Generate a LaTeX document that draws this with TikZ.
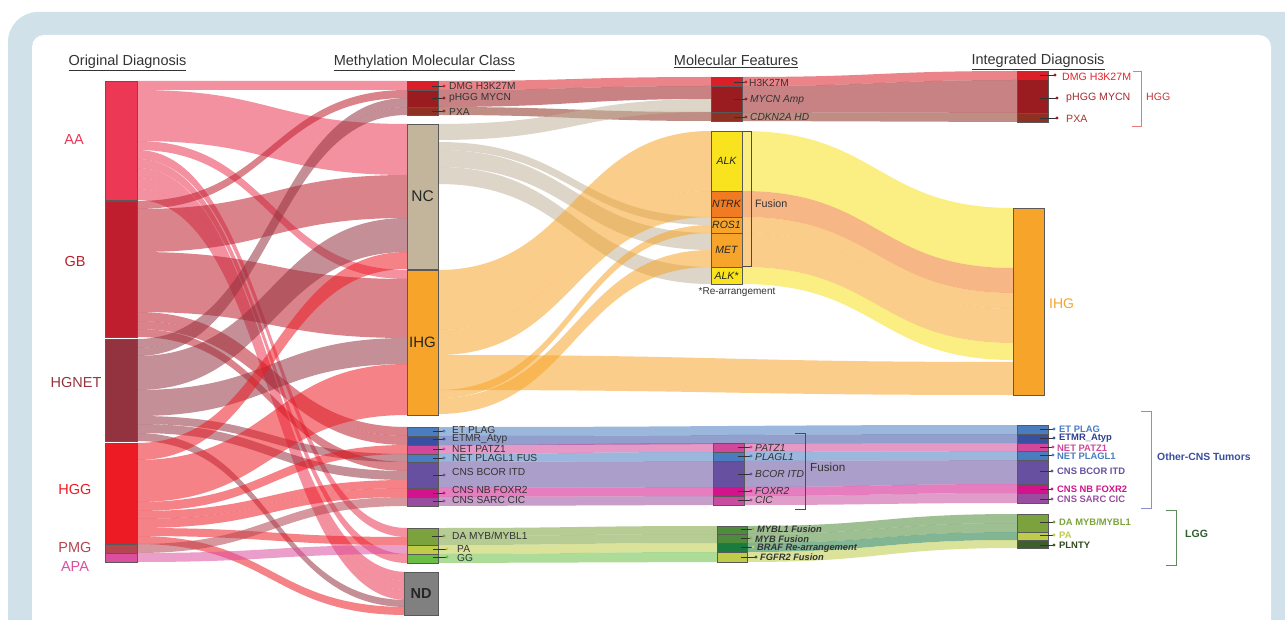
\documentclass[tikz,border=0pt]{standalone}
\usepackage{fontspec}
\setmainfont{Liberation Sans}
\usetikzlibrary{fit}
% node colours
\definecolor{bgblue}{HTML}{D0E1EA}
\definecolor{cAA}{HTML}{EC3755}
\definecolor{cGB}{HTML}{BE1E2D}
\definecolor{cHN}{HTML}{943340}
\definecolor{cHGG}{HTML}{ED1C24}
\definecolor{cPMG}{HTML}{B5454F}
\definecolor{cAPA}{HTML}{DC4FA0}
\definecolor{cDMG}{HTML}{DA1F28}
\definecolor{cpHGG}{HTML}{9B1C20}
\definecolor{cPXA}{HTML}{8E3022}
\definecolor{cNC}{HTML}{C2B59B}
\definecolor{cIHG}{HTML}{F7A42A}
\definecolor{cETP}{HTML}{4A7CC0}
\definecolor{cETMR}{HTML}{3950A2}
\definecolor{cPATZ}{HTML}{D1479A}
\definecolor{cBCOR}{HTML}{66509F}
\definecolor{cFOX}{HTML}{D3138C}
\definecolor{cCIC}{HTML}{994D9F}
\definecolor{cCICf}{HTML}{C84DA0}
\definecolor{cDA}{HTML}{7CA23E}
\definecolor{cPA}{HTML}{BECC49}
\definecolor{cGG}{HTML}{6BBE45}
\definecolor{cND}{HTML}{808080}
\definecolor{cALK}{HTML}{F9E21E}
\definecolor{cNTRK}{HTML}{F07B23}
\definecolor{cMYB}{HTML}{4E8B3A}
\definecolor{cBRAF}{HTML}{1B7A3D}
\definecolor{cPLN}{HTML}{3D5F2B}
\definecolor{txt}{HTML}{333333}
\definecolor{tDMG}{HTML}{E3242B}
\definecolor{tpHGG}{HTML}{A32A2E}
\definecolor{tPXA}{HTML}{A33A2E}
\definecolor{tETMR}{HTML}{2E3F8F}
\definecolor{tPLN}{HTML}{2E4A1E}
\definecolor{brHGG}{HTML}{E87A7A}
\definecolor{tHGG}{HTML}{C1393C}
\definecolor{brCNS}{HTML}{8C8FCB}
\definecolor{tCNS}{HTML}{3A4FA0}
\definecolor{brLGG}{HTML}{5E8C5E}
\definecolor{tLGG}{HTML}{2E5E2E}
\definecolor{dMYBL}{HTML}{8BB04B}
\definecolor{dBRAF}{HTML}{C9D34A}

\tikzset{
  band/.style={fill opacity=0.55},
  nbox/.style={draw=black!65, line width=0.5pt, inner sep=0pt},
  hdr/.style={font=\fontsize{14.5}{16}\selectfont, text=txt, anchor=base},
  lab1/.style={font=\fontsize{14.5}{16}\selectfont, anchor=center},
  lab2/.style={font=\fontsize{10.2}{11}\selectfont, text=txt, anchor=west, inner sep=0pt},
  lab3/.style={font=\fontsize{10.2}{11}\selectfont\itshape, text=txt, anchor=west, inner sep=0pt},
  lab3b/.style={font=\fontsize{9.3}{11}\selectfont\bfseries\itshape, text=txt, anchor=west, inner sep=0pt},
  lab4/.style={font=\fontsize{10.6}{12}\selectfont, anchor=west, inner sep=0pt},
  lab4b/.style={font=\fontsize{9.4}{11}\selectfont\bfseries, anchor=west, inner sep=0pt},
  inl/.style={font=\fontsize{10.5}{12}\selectfont\itshape, text=black!85, anchor=center},
  pinl/.style={draw=black!80, line width=0.6pt},
  brk/.style={line width=0.8pt},
}

\newcommand\sband[7]{\fill[band,#7] (#1,#2) .. controls ({(#1+#4)/2},#2) and ({(#1+#4)/2},#5) .. (#4,#5) -- (#4,#6) .. controls ({(#1+#4)/2},#6) and ({(#1+#4)/2},#3) .. (#1,#3) -- cycle;}
\newcommand\mybox[6]{\node[nbox, fill=#6, fit={(#2,#3) (#4,#5)}] (#1) {};}
\newcommand\lpin[4]{\draw[pinl] (#1,#3) -- (#2,#3); \fill[#4] (#2,#3) circle (1.7pt);}

\begin{document}
\begin{tikzpicture}[x=1pt,y=-1pt]
\useasboundingbox (0,0) rectangle (1285,620);
\clip (0,0) rectangle (1285,620);
% background frame
\fill[bgblue, rounded corners=30pt] (8,12) rectangle (1330,680);
\fill[white, rounded corners=12pt] (32,35) rectangle (1271,700);

% ---------- flows: original -> methylation class ----------
% AA
\sband{137}{81}{90}{407}{81}{90}{cAA}
\sband{137}{90}{141}{407}{124}{175}{cAA}
\sband{137}{141}{150}{407}{270}{279}{cAA}
\sband{137}{150}{159}{407}{528}{537}{cAA}
\sband{137}{159}{168}{407}{554}{563}{cAA}
\sband{137}{168}{178}{407}{572}{581}{cAA}
\sband{137}{178}{189}{407}{581}{590}{cAA}
\sband{137}{189}{200}{407}{590}{600}{cAA}
% GB
\sband{137}{201}{209}{407}{90}{98}{cGB}
\sband{137}{209}{252}{407}{175}{218}{cGB}
\sband{137}{252}{312}{407}{279}{338}{cGB}
\sband{137}{312}{321}{407}{427}{436}{cGB}
\sband{137}{321}{329}{407}{436}{445}{cGB}
\sband{137}{329}{337}{407}{462}{471}{cGB}
% HGNET
\sband{137}{339}{348}{407}{98}{107}{cHN}
\sband{137}{348}{356}{407}{107}{115}{cHN}
\sband{137}{356}{390}{407}{218}{252}{cHN}
\sband{137}{390}{416}{407}{338}{364}{cHN}
\sband{137}{416}{424}{407}{454}{462}{cHN}
\sband{137}{424}{433}{407}{471}{480}{cHN}
\sband{137}{433}{441}{407}{600}{607}{cHN}
% HGG
\sband{137}{443}{460}{407}{252}{269}{cHGG}
\sband{137}{460}{502}{407}{364}{415}{cHGG}
\sband{137}{502}{511}{407}{445}{454}{cHGG}
\sband{137}{511}{519}{407}{480}{488}{cHGG}
\sband{137}{519}{528}{407}{488}{497}{cHGG}
\sband{137}{528}{536}{407}{537}{545}{cHGG}
\sband{137}{536}{544}{407}{607}{615}{cHGG}
% PMG, APA
\sband{137}{544}{553}{407}{497}{506}{cPMG}
\sband{137}{553}{562}{407}{545}{554}{cAPA}

% ---------- flows: methylation class -> molecular features ----------
\sband{438}{81}{90}{711}{77}{86}{cDMG}
\sband{438}{90}{107}{711}{86}{99}{cpHGG}
\sband{438}{107}{115}{711}{112}{121}{cPXA}
\sband{438}{124}{140}{711}{99}{112}{cNC}
\sband{438}{142}{150}{711}{217}{225}{cNC}
\sband{438}{150}{167}{711}{233}{250}{cNC}
\sband{438}{167}{184}{711}{267}{284}{cNC}
\sband{438}{270}{330}{711}{131}{191}{cIHG}
\sband{438}{330}{355}{711}{191}{217}{cIHG}
\sband{438}{390}{398}{711}{225}{233}{cIHG}
\sband{438}{398}{414}{711}{250}{267}{cIHG}
\sband{438}{355}{390}{1013}{362}{395}{cIHG}
% other CNS
\sband{438}{427}{436}{1017}{425}{434}{cETP}
\sband{438}{436}{445}{1017}{434}{443}{cETMR}
\sband{438}{445}{454}{713}{443}{452}{cPATZ}
\sband{438}{454}{462}{713}{452}{461}{cETP}
\sband{438}{462}{488}{713}{461}{487}{cBCOR}
\sband{438}{488}{497}{713}{487}{496}{cFOX}
\sband{438}{497}{506}{713}{496}{505}{cCIC}
% LGG
\sband{438}{528}{536}{717}{526}{534}{cDA}
\sband{438}{536}{545}{717}{534}{543}{cDA}
\sband{438}{545}{554}{717}{543}{552}{cPA}
\sband{438}{554}{563}{717}{552}{562}{cGG}

% ---------- flows: molecular features -> integrated diagnosis ----------
\sband{742}{77}{86}{1017}{71}{80}{cDMG}
\sband{742}{86}{112}{1017}{80}{113}{cpHGG}
\sband{742}{112}{121}{1017}{113}{122}{cPXA}
\sband{742}{131}{191}{1013}{208}{268}{cALK}
\sband{742}{191}{217}{1013}{268}{293}{cNTRK}
\sband{742}{217}{233}{1013}{293}{309}{cIHG}
\sband{742}{233}{267}{1013}{309}{343}{cIHG}
\sband{742}{267}{284}{1013}{343}{360}{cALK}
\sband{744}{443}{452}{1017}{443}{451}{cPATZ}
\sband{744}{452}{461}{1017}{451}{460}{cETP}
\sband{744}{461}{487}{1017}{460}{484}{cBCOR}
\sband{744}{487}{496}{1017}{484}{493}{cFOX}
\sband{744}{496}{505}{1017}{493}{503}{cCICf}
\sband{747}{526}{534}{1017}{514}{523}{cMYB}
\sband{747}{534}{543}{1017}{523}{532}{cMYB}
\sband{747}{543}{552}{1017}{532}{540}{cBRAF}
\sband{747}{552}{562}{1017}{540}{548}{cPA}

% ---------- boxes ----------
% column 1
\mybox{AA}{105}{81}{137}{200}{cAA}
\mybox{GB}{105}{201}{137}{337}{cGB}
\mybox{HN}{105}{339}{137}{441}{cHN}
\mybox{HGG}{105}{443}{137}{544}{cHGG}
\mybox{PMG}{105}{544}{137}{553}{cPMG}
\mybox{APA}{105}{553}{137}{562}{cAPA}
% column 2
\mybox{mDMG}{407}{81}{438}{90}{cDMG}
\mybox{mpHGG}{407}{90}{438}{107}{cpHGG}
\mybox{mPXA}{407}{107}{438}{115}{cPXA}
\mybox{mNC}{407}{124}{438}{269}{cNC}
\mybox{mIHG}{407}{270}{438}{415}{cIHG}
\mybox{mETP}{407}{427}{438}{436}{cETP}
\mybox{mETMR}{407}{436}{438}{445}{cETMR}
\mybox{mPATZ}{407}{445}{438}{454}{cPATZ}
\mybox{mPLAG}{407}{454}{438}{462}{cETP}
\mybox{mBCOR}{407}{462}{438}{488}{cBCOR}
\mybox{mFOX}{407}{488}{438}{497}{cFOX}
\mybox{mCIC}{407}{497}{438}{506}{cCIC}
\mybox{mDA}{407}{528}{438}{545}{cDA}
\mybox{mPA}{407}{545}{438}{554}{cPA}
\mybox{mGG}{407}{554}{438}{563}{cGG}
\mybox{mND}{404}{572}{438}{615}{cND}
% column 3
\mybox{fH3}{711}{77}{742}{86}{cDMG}
\mybox{fMYCN}{711}{86}{742}{112}{cpHGG}
\mybox{fCDKN}{711}{112}{742}{121}{cPXA}
\mybox{fALK}{711}{131}{742}{191}{cALK}
\mybox{fNTRK}{711}{191}{742}{217}{cNTRK}
\mybox{fROS}{711}{217}{742}{233}{cIHG}
\mybox{fMET}{711}{233}{742}{267}{cIHG}
\mybox{fALKs}{711}{267}{742}{284}{cALK}
\mybox{fPATZ}{713}{443}{744}{452}{cPATZ}
\mybox{fPLAG}{713}{452}{744}{461}{cETP}
\mybox{fBCOR}{713}{461}{744}{487}{cBCOR}
\mybox{fFOX}{713}{487}{744}{496}{cFOX}
\mybox{fCIC}{713}{496}{744}{505}{cCICf}
\mybox{fMYBL}{717}{526}{747}{534}{cMYB}
\mybox{fMYB}{717}{534}{747}{543}{cMYB}
\mybox{fBRAF}{717}{543}{747}{552}{cBRAF}
\mybox{fFGFR}{717}{552}{747}{562}{cPA}
% column 4
\mybox{iDMG}{1017}{71}{1048}{79}{cDMG}
\mybox{ipHGG}{1017}{79}{1048}{113}{cpHGG}
\mybox{iPXA}{1017}{113}{1048}{122}{cPXA}
\mybox{iIHG}{1013}{208}{1044}{395}{cIHG}
\mybox{iETP}{1017}{425}{1048}{434}{cETP}
\mybox{iETMR}{1017}{434}{1048}{443}{cETMR}
\mybox{iPATZ}{1017}{443}{1048}{451}{cPATZ}
\mybox{iPLAG}{1017}{451}{1048}{460}{cETP}
\mybox{iBCOR}{1017}{460}{1048}{484}{cBCOR}
\mybox{iFOX}{1017}{484}{1048}{493}{cFOX}
\mybox{iCIC}{1017}{493}{1048}{503}{cCIC}
\mybox{iDA}{1017}{514}{1048}{532}{cDA}
\mybox{iPA}{1017}{532}{1048}{540}{cPA}
\mybox{iPLN}{1017}{540}{1048}{548}{cPLN}

% ---------- headers ----------
\node[hdr] (h1) at (127.5,66) {\underline{Original Diagnosis}};
\node[hdr] (h2) at (424.5,66) {\underline{Methylation Molecular Class}};
\node[hdr] (h3) at (736,66) {\underline{Molecular Features}};
\node[hdr] (h4) at (1038,65) {\underline{Integrated Diagnosis}};

% ---------- column 1 labels ----------
\node[lab1, text=cAA] (tAA) at (74,140) {AA};
\node[lab1, text=cGB] (tGB) at (75,262) {GB};
\node[lab1, text=cHN] (tHN) at (76,383) {HGNET};
\node[lab1, text=cHGG] (tHGG) at (75,490) {HGG};
\node[lab1, text=cPMG] (tPMG) at (75,548) {PMG};
\node[lab1, text=cAPA] (tAPA) at (75,567) {APA};

% ---------- column 2 labels ----------
\node[font=\fontsize{15.5}{17}\selectfont, text=black!85] (tNC) at (mNC.center) {NC};
\node[font=\fontsize{15}{17}\selectfont, text=black!85] (tIHG) at (mIHG.center) {IHG};
\node[font=\fontsize{14.5}{16}\selectfont\bfseries, text=black!85] (tND) at (mND.center) {ND};
\lpin{432}{444}{86}{cDMG}\node[lab2] (tmDMG) at (449,86) {DMG H3K27M};
\lpin{432}{444}{98}{cpHGG}\node[lab2] (tmpHGG) at (449,98) {pHGG MYCN};
\lpin{432}{444}{111}{cPXA}\node[lab2] (tmPXA) at (449,112) {PXA};
\lpin{433}{444}{431}{cETP}\node[lab2] (tmETP) at (452,430) {ET PLAG};
\lpin{433}{444}{439}{cETMR}\node[lab2] (tmETMR) at (452,439) {ETMR\_Atyp};
\lpin{433}{444}{449}{cPATZ}\node[lab2] (tmPATZ) at (452,449) {NET PATZ1};
\lpin{433}{444}{458}{cETP}\node[lab2] (tmPLAG) at (452,458) {NET PLAGL1 FUS};
\lpin{433}{444}{475}{cBCOR}\node[lab2] (tmBCOR) at (452,472) {CNS BCOR ITD};
\lpin{433}{444}{493}{cFOX}\node[lab2] (tmFOX) at (452,490) {CNS NB FOXR2};
\lpin{433}{444}{501}{cCIC}\node[lab2] (tmCIC) at (452,500) {CNS SARC CIC};
\lpin{432}{444}{536}{cDA}\node[lab2] (tmDA) at (452,536) {DA MYB/MYBL1};
\lpin{433}{447}{549}{cPA}\node[lab2] (tmPA) at (457,549) {PA};
\lpin{433}{447}{557}{cGG}\node[lab2] (tmGG) at (457,558) {GG};

% ---------- column 3 labels ----------
\lpin{734}{746}{82}{cDMG}\node[lab2] (tfH3) at (749,83) {H3K27M};
\lpin{734}{746}{99}{cpHGG}\node[lab3] (tfMYCN) at (750,100) {MYCN Amp};
\lpin{734}{746}{117}{cPXA}\node[lab3] (tfCDKN) at (750,117) {CDKN2A HD};
\node[inl] (tALK) at (fALK.center) {ALK};
\node[inl] (tNTRK) at (fNTRK.center) {NTRK};
\node[inl] (tROS) at (fROS.center) {ROS1};
\node[inl] (tMET) at (fMET.center) {MET};
\node[inl] (tALKs) at (fALKs.center) {ALK*};
\draw[brk, black!70] (742,131) -- (751,131) -- (751,266) -- (742,266);
\node[lab2, font=\fontsize{10.7}{12}\selectfont] (tFus1) at (755,204) {Fusion};
\node[font=\fontsize{10}{11}\selectfont, text=txt] (tRe) at (737,292) {*Re-arrangement};
\lpin{738}{751}{447}{cPATZ}\node[lab3] (tfPATZ) at (755,448) {PATZ1};
\lpin{738}{751}{456}{cETP}\node[lab3] (tfPLAG) at (755,457) {PLAGL1};
\lpin{738}{751}{474}{cBCOR}\node[lab3] (tfBCOR) at (755,474) {BCOR ITD};
\lpin{738}{751}{491}{cFOX}\node[lab3] (tfFOX) at (755,491) {FOXR2};
\lpin{738}{751}{500}{cCIC}\node[lab3] (tfCIC) at (755,500) {CIC};
\draw[brk, black!70] (795,433) -- (805,433) -- (805,509) -- (795,509);
\node[lab2, font=\fontsize{11.7}{13}\selectfont] (tFus2) at (810,467) {Fusion};
\lpin{741}{753}{529}{dMYBL}\node[lab3b] (tfMYBL) at (757,529) {MYBL1 Fusion};
\lpin{741}{751}{538}{dMYBL}\node[lab3b] (tfMYB) at (755,539) {MYB Fusion};
\lpin{741}{753}{547}{dBRAF}\node[lab3b] (tfBRAF) at (757,548) {BRAF Re-arrangement};
\lpin{741}{756}{557}{cPLN}\node[lab3b] (tfFGFR) at (760,557) {FGFR2 Fusion};

% ---------- column 4 labels ----------
\lpin{1040}{1055}{75}{cpHGG}\node[lab4, text=tDMG] (tiDMG) at (1062,77) {DMG H3K27M};
\lpin{1040}{1057}{98}{cpHGG}\node[lab4, text=tpHGG] (tipHGG) at (1066,98) {pHGG MYCN};
\lpin{1040}{1057}{118}{cpHGG}\node[lab4, text=tPXA] (tiPXA) at (1066,119) {PXA};
\draw[brk, brHGG] (1133,71) -- (1141,71) -- (1141,126) -- (1132,126);
\node[lab4, text=tHGG] (tHGGb) at (1146,97) {HGG};
\node[lab4, font=\fontsize{14}{16}\selectfont, text=cIHG] (tiIHG) at (1049,304) {IHG};
\lpin{1040}{1054}{429}{cETP}\node[lab4b, text=cETP] (tiETP) at (1059,429) {ET PLAG};
\lpin{1040}{1054}{438}{cETMR}\node[lab4b, text=tETMR] (tiETMR) at (1059,438) {ETMR\_Atyp};
\lpin{1040}{1053}{447}{cPATZ}\node[lab4b, text=cPATZ] (tiPATZ) at (1057,448) {NET PATZ1};
\lpin{1040}{1053}{455}{cETP}\node[lab4b, text=cETP] (tiPLAG) at (1057,456) {NET PLAGL1};
\lpin{1040}{1052}{471}{cBCOR}\node[lab4b, text=cBCOR] (tiBCOR) at (1057,471) {CNS BCOR ITD};
\lpin{1040}{1052}{489}{cFOX}\node[lab4b, text=cFOX] (tiFOX) at (1057,489) {CNS NB FOXR2};
\lpin{1040}{1052}{499}{cCIC}\node[lab4b, text=cCIC] (tiCIC) at (1057,499) {CNS SARC CIC};
\draw[brk, brCNS] (1141,411) -- (1151,411) -- (1151,508) -- (1141,508);
\node[lab4, font=\fontsize{10.4}{12}\selectfont\bfseries, text=tCNS] (tCNSb) at (1157,457) {Other-CNS Tumors};
\lpin{1040}{1054}{522}{cDA}\node[lab4b, text=cDA] (tiDA) at (1059,522) {DA MYB/MYBL1};
\lpin{1040}{1054}{535}{cPA}\node[lab4b, text=cPA] (tiPA) at (1059,535) {PA};
\lpin{1040}{1054}{545}{cPLN}\node[lab4b, text=tPLN] (tiPLN) at (1059,545) {PLNTY};
\draw[brk, brLGG] (1166,510) -- (1176,510) -- (1176,565) -- (1166,565);
\node[lab4, font=\fontsize{10.5}{12}\selectfont\bfseries, text=tLGG] (tLGGb) at (1185,534) {LGG};
\end{tikzpicture}
\end{document}
